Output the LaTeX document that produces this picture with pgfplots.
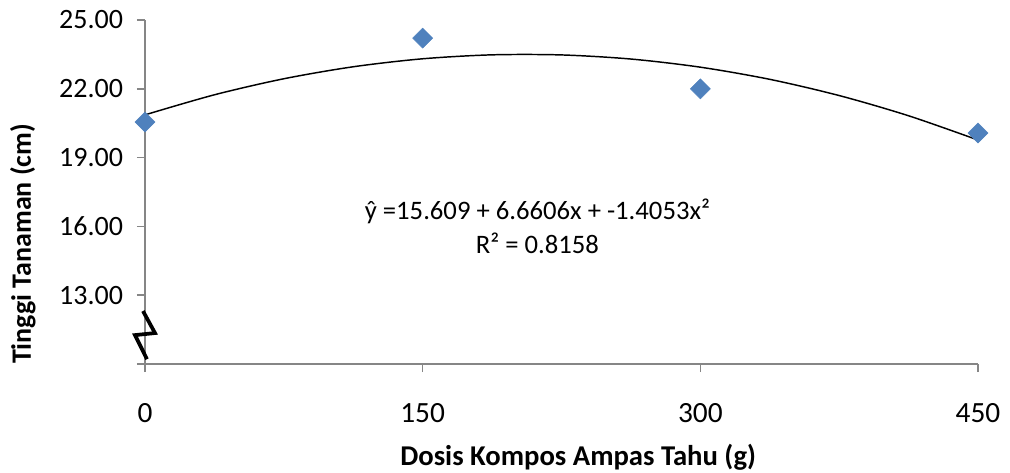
\documentclass[border=0pt]{standalone}
\usepackage{pgfplots}
\pgfplotsset{compat=1.18}
\usepackage{fontspec}
\setmainfont{Carlito}
\definecolor{mblue}{HTML}{4F81BD}
\definecolor{agray}{HTML}{868686}
\begin{document}
\begin{tikzpicture}[x=1pt,y=1pt]
\begin{axis}[
  at={(0,0)}, anchor=south west,
  width=624.75pt, height=258pt, scale only axis,
  xmin=0, xmax=450, ymin=10, ymax=25,
  axis x line*=bottom, axis y line*=left,
  axis line style={agray, line width=1.1pt, -},
  clip=false,
  xtick={0,150,300,450},
  ytick={10,13,16,19,22,25},
  yticklabels={,13.00,16.00,19.00,22.00,25.00},
  tick align=outside,
  major tick length=6pt,
  tick style={agray, line width=1.1pt},
  /pgf/number format/assume math mode=true,
  xticklabel style={font=\fontsize{22}{26}\selectfont, yshift=-20pt},
  yticklabel style={font=\fontsize{21}{25}\selectfont, xshift=-7pt},
  xlabel={\textbf{Dosis Kompos Ampas Tahu (g)}},
  ylabel={\textbf{Tinggi Tanaman (cm)}},
  xlabel style={font=\fontsize{21.5}{25}\selectfont, at={(axis description cs:0.52,0)}, anchor=center, yshift=-70pt},
  ylabel style={font=\fontsize{21}{25}\selectfont, at={(axis description cs:-0.1465,0.349)}, anchor=center},
]
\addplot[black, line width=1.1pt, smooth] coordinates {
(0,20.864) (37.5,21.739) (75,22.438) (112.5,22.961) (150,23.309) (187.5,23.481)
(225,23.477) (262.5,23.298) (300,22.943) (337.5,22.413) (375,21.706) (412.5,20.824) (450,19.767)};
\addplot[only marks, mark=square*, mark size=5.3pt, mark options={rotate=45, fill=mblue, draw=mblue}]
coordinates {(0,20.55) (150,24.21) (300,22.0) (450,20.07)};
\node[font=\fontsize{20}{24}\selectfont, align=center] at (axis cs:212,16.0) {ŷ =15.609 + 6.6606x + -1.4053x²\\[2pt] R² = 0.8158};
\draw[black, line width=2.8pt, line join=miter] (axis cs:-1.08,12.31) -- (axis cs:5.4,11.35) -- (axis cs:-5.4,11.26) -- (axis cs:1.08,10.21);
\end{axis}
\pgfresetboundingbox
\path[use as bounding box] (-108.75pt,-81pt) rectangle (648.75pt,273pt);
\end{tikzpicture}
\end{document}
